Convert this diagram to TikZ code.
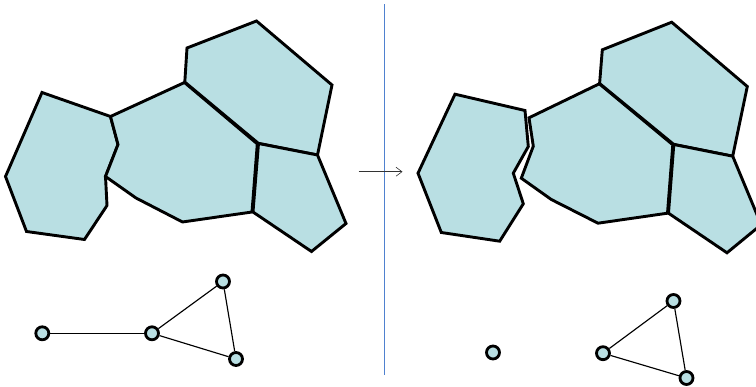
\documentclass[tikz,border=0pt]{standalone}
\usetikzlibrary{arrows.meta}
\definecolor{cellfill}{HTML}{B9DFE3}
\definecolor{divider}{HTML}{4F81CF}
\tikzset{
  cell/.style={fill=cellfill,draw=black,line width=2.9pt,line join=miter,miter limit=4},
  vertex/.style={circle,fill=cellfill,draw=black,line width=2.8pt,minimum size=13pt,inner sep=0pt},
  edge/.style={draw=black,line width=1.15pt},
  flow/.style={draw=black!80,line width=0.6pt,-{Straight Barb[length=6pt,width=9pt,line width=0.6pt]}}
}
\begin{document}
\begin{tikzpicture}[x=1pt,y=-1pt]
\useasboundingbox (0,0) rectangle (756,387);
\clip (0,0) rectangle (756,387);
\begin{scope}[yshift=-0.5pt]
% left
\draw[cell] (42,92)--(110.5,116)--(118,144)--(105.5,176)--(107,205)--(84.5,239)--(26.5,231)--(5.5,176)--cycle;
\draw[cell] (110.5,116)--(184.5,82)--(257.3,143.4)--(252,211.5)--(182.5,221.5)--(136,197.5)--(105.5,176)--(118,144)--cycle;
\draw[cell] (184.8,81.6)--(187,47.5)--(256.5,20.5)--(332,84.5)--(317.5,154.5)--(258.3,142.8)--cycle;
\draw[cell] (258.5,143)--(317.5,154.5)--(346,223)--(311.5,251)--(253,211.5)--cycle;
% right
\draw[cell] (455,93.7)--(525,110)--(528.3,146)--(513.3,172.7)--(523.3,203.3)--(499.7,240.7)--(441.3,232)--(418,172.7)--cycle;
\draw[cell] (529,117.3)--(599.3,83.3)--(672.8,144.3)--(667.5,212.7)--(598,222.7)--(551.3,199)--(521.3,177.7)--(533.3,145.7)--cycle;
\draw[cell] (599.6,83)--(602.3,49.3)--(671.7,21.7)--(747.3,86)--(732.7,155.7)--(673.6,143.8)--cycle;
\draw[cell] (673.8,144)--(732.7,155.7)--(761.2,224.2)--(727,252.3)--(668.5,212.7)--cycle;
% divider and arrow
\coordinate (divtop) at (384.5,4);
\coordinate (divbot) at (384.5,375);
\draw[divider,line width=1.3pt] (divtop)--(divbot);
\coordinate (arrowa) at (358.5,171.2);
\coordinate (arrowb) at (402.5,171.2);
\draw[flow] (arrowa)--(arrowb);
% left graph
\node[vertex] (la) at (42.3,332.8) {};
\node[vertex] (lb) at (152,332.8) {};
\node[vertex] (lc) at (223,281) {};
\node[vertex] (ld) at (236,358.5) {};
\draw[edge] (la)--(lb);
\draw[edge] (lb)--(lc);
\draw[edge] (lb)--(ld);
\draw[edge] (lc)--(ld);
% right graph
\node[vertex] (ra) at (493,352) {};
\node[vertex] (rb) at (603,352.7) {};
\node[vertex] (rc) at (673.5,300.5) {};
\node[vertex] (rd) at (686.5,377.5) {};
\draw[edge] (rb)--(rc);
\draw[edge] (rb)--(rd);
\draw[edge] (rc)--(rd);
\end{scope}
\end{tikzpicture}
\end{document}
